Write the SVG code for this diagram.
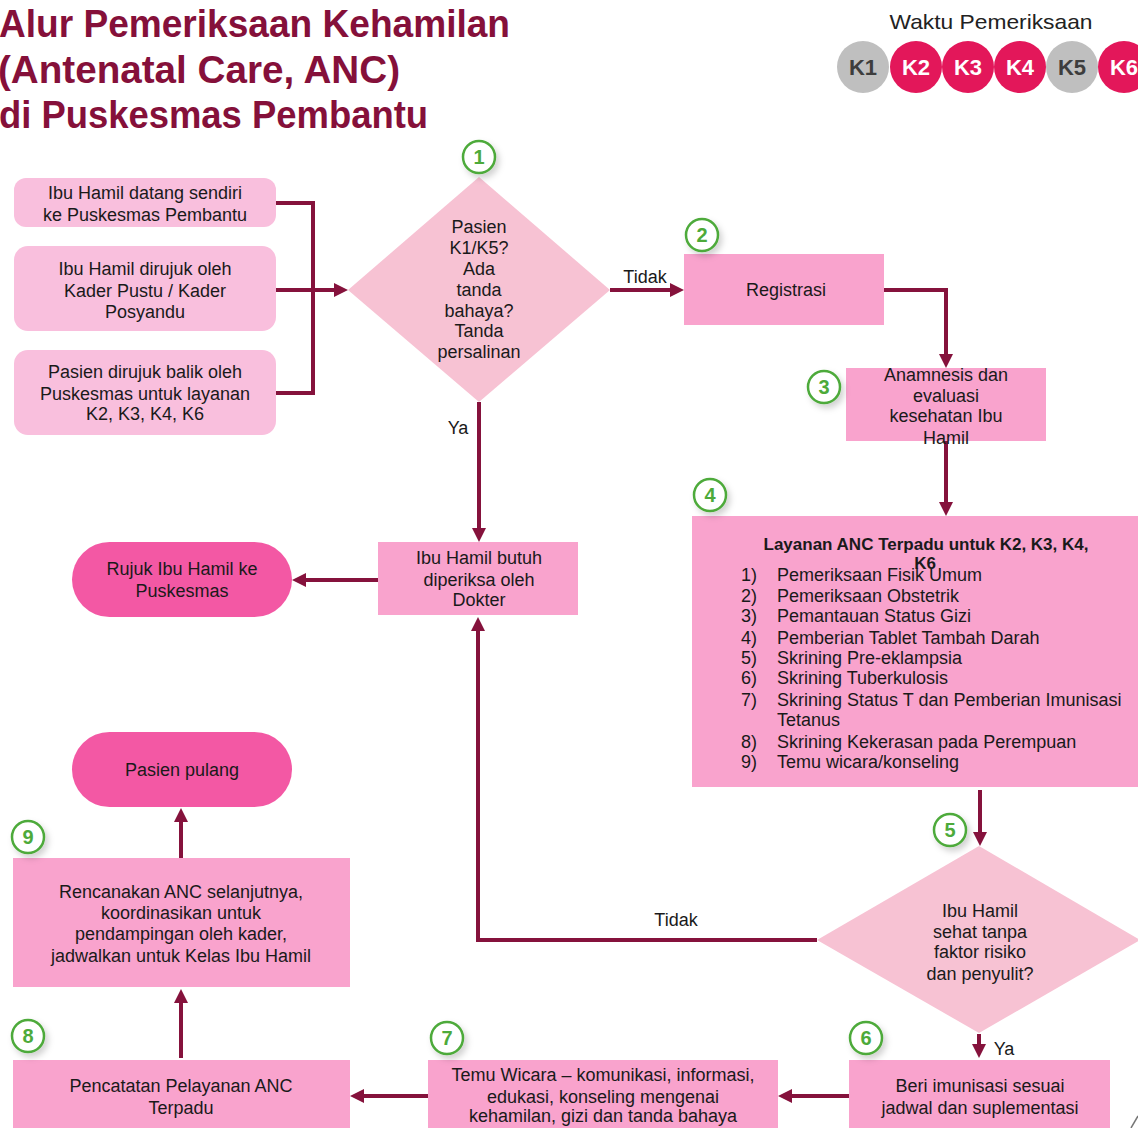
<svg xmlns="http://www.w3.org/2000/svg" width="1138" height="1128" viewBox="0 0 1138 1128">
<defs>
<marker id="ah" viewBox="0 0 14 14" markerWidth="14" markerHeight="14" markerUnits="userSpaceOnUse" refX="10" refY="7" orient="auto">
<path d="M0,0 L14,7 L0,14 z" fill="#85123C"/>
</marker>
<filter id="sh" x="-50%" y="-50%" width="200%" height="200%">
<feDropShadow dx="3" dy="4" stdDeviation="3" flood-color="#000" flood-opacity="0.18"/>
</filter>
<style>
text{font-family:"Liberation Sans","DejaVu Sans",sans-serif;fill:#1a1a1a;}
.t{font-size:18px;text-anchor:middle;}
.title{font-size:38px;font-weight:bold;fill:#85103A;}
.pale{fill:#F9BFDD;}
.box{fill:#F9A3CD;}
.dia{fill:#F7C2D3;}
.stad{fill:#F358A4;}
.con{fill:none;stroke:#85123C;stroke-width:4;}
.num circle{fill:#fff;stroke:#4DAA3A;stroke-width:2.5;filter:url(#sh);}
.num text{font-size:20px;font-weight:bold;fill:#4DAA3A;text-anchor:middle;}
.kg{fill:#BFBFBF;}
.kp{fill:#E3175A;}
.kt{font-size:22px;font-weight:bold;text-anchor:middle;}
.li{font-size:18px;}
</style>
</defs>
<rect width="1138" height="1128" fill="#fff"/>

<g id="title">
<text class="title" x="-1" y="37" textLength="511" lengthAdjust="spacingAndGlyphs">Alur Pemeriksaan Kehamilan</text>
<text class="title" x="-2" y="83" textLength="402" lengthAdjust="spacingAndGlyphs">(Antenatal Care, ANC)</text>
<text class="title" x="-1" y="128" textLength="429" lengthAdjust="spacingAndGlyphs">di Puskesmas Pembantu</text>
</g>

<g id="legend">
<text x="991" y="29" style="font-size:21px;text-anchor:middle;fill:#222" textLength="203" lengthAdjust="spacingAndGlyphs">Waktu Pemeriksaan</text>
<circle class="kg" cx="863" cy="67" r="26"/><text class="kt" x="863" y="75" style="fill:#3d3d3d">K1</text>
<circle class="kp" cx="916" cy="67" r="26"/><text class="kt" x="916" y="75" style="fill:#fff">K2</text>
<circle class="kp" cx="968" cy="67" r="26"/><text class="kt" x="968" y="75" style="fill:#fff">K3</text>
<circle class="kp" cx="1020" cy="67" r="26"/><text class="kt" x="1020" y="75" style="fill:#fff">K4</text>
<circle class="kg" cx="1072" cy="67" r="26"/><text class="kt" x="1072" y="75" style="fill:#3d3d3d">K5</text>
<circle class="kp" cx="1124" cy="67" r="26"/><text class="kt" x="1124" y="75" style="fill:#fff">K6</text>
</g>

<g id="connectors">
<path class="con" d="M276,203 H313 V393 H276"/>
<path class="con" d="M276,290 H344" marker-end="url(#ah)"/>
<path class="con" d="M610,290 H680" marker-end="url(#ah)"/>
<path class="con" d="M884,290 H946 V364" marker-end="url(#ah)"/>
<path class="con" d="M946,441 V512" marker-end="url(#ah)"/>
<path class="con" d="M980,790 V842" marker-end="url(#ah)"/>
<path class="con" d="M817,940 H478 V621" marker-end="url(#ah)"/>
<path class="con" d="M479,402 V538" marker-end="url(#ah)"/>
<path class="con" d="M378,580 H296" marker-end="url(#ah)"/>
<path class="con" d="M181,858 V812" marker-end="url(#ah)"/>
<path class="con" d="M181,1058 V993" marker-end="url(#ah)"/>
<path class="con" d="M428,1096 H354" marker-end="url(#ah)"/>
<path class="con" d="M849,1096 H782" marker-end="url(#ah)"/>
<path class="con" d="M979,1034 V1054" marker-end="url(#ah)"/>
<text x="645" y="283" class="t">Tidak</text>
<text x="458" y="434" class="t">Ya</text>
<text x="676" y="926" class="t">Tidak</text>
<text x="1004" y="1055" class="t">Ya</text>
</g>

<g id="n-src1">
<rect class="pale" x="14" y="178" width="262" height="49" rx="12"/>
<text class="t" x="145" y="199">Ibu Hamil datang sendiri</text>
<text class="t" x="145" y="221">ke Puskesmas Pembantu</text>
</g>
<g id="n-src2">
<rect class="pale" x="14" y="246" width="262" height="85" rx="14"/>
<text class="t" x="145" y="275">Ibu Hamil dirujuk oleh</text>
<text class="t" x="145" y="297">Kader Pustu / Kader</text>
<text class="t" x="145" y="318">Posyandu</text>
</g>
<g id="n-src3">
<rect class="pale" x="14" y="350" width="262" height="85" rx="14"/>
<text class="t" x="145" y="378">Pasien dirujuk balik oleh</text>
<text class="t" x="145" y="400">Puskesmas untuk layanan</text>
<text class="t" x="145" y="420">K2, K3, K4, K6</text>
</g>

<g id="n-dec1">
<polygon class="dia" points="479,177 610,290 479,402 348,290"/>
<text class="t" x="479" y="233">Pasien</text>
<text class="t" x="479" y="254">K1/K5?</text>
<text class="t" x="479" y="275">Ada</text>
<text class="t" x="479" y="296">tanda</text>
<text class="t" x="479" y="317">bahaya?</text>
<text class="t" x="479" y="337">Tanda</text>
<text class="t" x="479" y="358">persalinan</text>
</g>
<g class="num" id="num1"><circle cx="479" cy="157" r="16"/><text x="479" y="164">1</text></g>

<g id="n-registrasi">
<rect class="box" x="684" y="254" width="200" height="71"/>
<text class="t" x="786" y="296">Registrasi</text>
</g>
<g class="num" id="num2"><circle cx="702" cy="235" r="16"/><text x="702" y="242">2</text></g>

<g id="n-anamnesis">
<rect class="box" x="846" y="368" width="200" height="73"/>
<text class="t" x="946" y="381">Anamnesis dan</text>
<text class="t" x="946" y="402">evaluasi</text>
<text class="t" x="946" y="422">kesehatan Ibu</text>
<text class="t" x="946" y="444">Hamil</text>
</g>
<g class="num" id="num3"><circle cx="824" cy="387" r="16"/><text x="824" y="394">3</text></g>

<g id="n-layanan">
<rect class="box" x="692" y="516" width="446" height="271"/>
<text class="t" x="926" y="550" style="font-weight:bold;font-size:17px">Layanan ANC Terpadu untuk K2, K3, K4,</text>
<text class="t" x="925" y="569" style="font-weight:bold;font-size:17px">K6</text>
<text class="li" x="741" y="581">1)</text><text class="li" x="777" y="581">Pemeriksaan Fisik Umum</text>
<text class="li" x="741" y="602">2)</text><text class="li" x="777" y="602">Pemeriksaan Obstetrik</text>
<text class="li" x="741" y="622">3)</text><text class="li" x="777" y="622">Pemantauan Status Gizi</text>
<text class="li" x="741" y="644">4)</text><text class="li" x="777" y="644">Pemberian Tablet Tambah Darah</text>
<text class="li" x="741" y="664">5)</text><text class="li" x="777" y="664">Skrining Pre-eklampsia</text>
<text class="li" x="741" y="684">6)</text><text class="li" x="777" y="684">Skrining Tuberkulosis</text>
<text class="li" x="741" y="706">7)</text><text class="li" x="777" y="706">Skrining Status T dan Pemberian Imunisasi</text>
<text class="li" x="777" y="726">Tetanus</text>
<text class="li" x="741" y="748">8)</text><text class="li" x="777" y="748">Skrining Kekerasan pada Perempuan</text>
<text class="li" x="741" y="768">9)</text><text class="li" x="777" y="768">Temu wicara/konseling</text>
</g>
<g class="num" id="num4"><circle cx="710" cy="495" r="16"/><text x="710" y="502">4</text></g>

<g id="n-dec5">
<polygon class="dia" points="979,846 1140,940 979,1033 817,940"/>
<text class="t" x="980" y="917">Ibu Hamil</text>
<text class="t" x="980" y="938">sehat tanpa</text>
<text class="t" x="980" y="958">faktor risiko</text>
<text class="t" x="980" y="980">dan penyulit?</text>
</g>
<g class="num" id="num5"><circle cx="950" cy="830" r="16"/><text x="950" y="837">5</text></g>

<g id="n-dokter">
<rect class="box" x="378" y="542" width="200" height="73"/>
<text class="t" x="479" y="564">Ibu Hamil butuh</text>
<text class="t" x="479" y="586">diperiksa oleh</text>
<text class="t" x="479" y="606">Dokter</text>
</g>

<g id="n-rujuk">
<rect class="stad" x="72" y="542" width="220" height="75" rx="37.5"/>
<text class="t" x="182" y="575">Rujuk Ibu Hamil ke</text>
<text class="t" x="182" y="597">Puskesmas</text>
</g>

<g id="n-pulang">
<rect class="stad" x="72" y="732" width="220" height="75" rx="37.5"/>
<text class="t" x="182" y="776">Pasien pulang</text>
</g>

<g id="n-rencana">
<rect class="box" x="13" y="858" width="337" height="129"/>
<text class="t" x="181" y="898">Rencanakan ANC selanjutnya,</text>
<text class="t" x="181" y="919">koordinasikan untuk</text>
<text class="t" x="181" y="940">pendampingan oleh kader,</text>
<text class="t" x="181" y="962">jadwalkan untuk Kelas Ibu Hamil</text>
</g>
<g class="num" id="num9"><circle cx="28" cy="837" r="16"/><text x="28" y="844">9</text></g>

<g id="n-pencatatan">
<rect class="box" x="13" y="1060" width="337" height="70"/>
<text class="t" x="181" y="1092">Pencatatan Pelayanan ANC</text>
<text class="t" x="181" y="1114">Terpadu</text>
</g>
<g class="num" id="num8"><circle cx="28" cy="1036" r="16"/><text x="28" y="1043">8</text></g>

<g id="n-temu">
<rect class="box" x="428" y="1060" width="350" height="70"/>
<text class="t" x="603" y="1081">Temu Wicara – komunikasi, informasi,</text>
<text class="t" x="603" y="1103">edukasi, konseling mengenai</text>
<text class="t" x="603" y="1122">kehamilan, gizi dan tanda bahaya</text>
</g>
<g class="num" id="num7"><circle cx="447" cy="1038" r="16"/><text x="447" y="1045">7</text></g>

<g id="n-imunisasi">
<rect class="box" x="849" y="1060" width="261" height="70"/>
<text class="t" x="980" y="1092">Beri imunisasi sesuai</text>
<text class="t" x="980" y="1114">jadwal dan suplementasi</text>
</g>
<g class="num" id="num6"><circle cx="866" cy="1038" r="16"/><text x="866" y="1045">6</text></g>

<path d="M1131,1128 L1138,1116" stroke="#777" stroke-width="1.5" fill="none"/>
</svg>
